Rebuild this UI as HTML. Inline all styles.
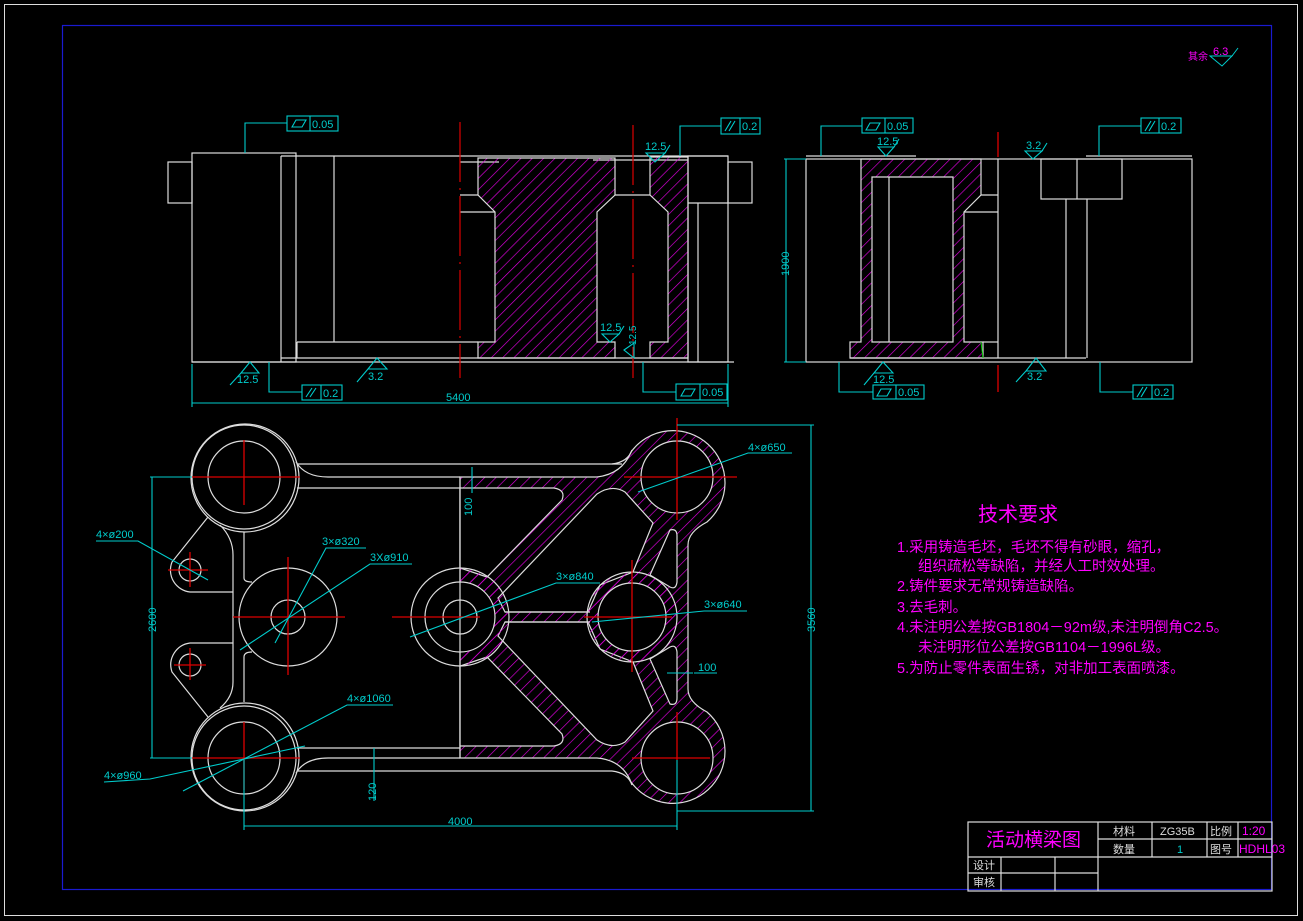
<!DOCTYPE html>
<html><head><meta charset="utf-8"><style>
html,body{margin:0;padding:0;background:#000;width:1303px;height:921px;overflow:hidden}
svg{display:block}
text{font-family:"Liberation Sans","Noto Sans CJK SC",sans-serif}
</style></head><body>
<svg width="1303" height="921" viewBox="0 0 1303 921" xmlns="http://www.w3.org/2000/svg">
<defs>
<pattern id="h" patternUnits="userSpaceOnUse" width="8" height="8" patternTransform="rotate(45)">
<line x1="0" y1="0" x2="0" y2="8" stroke="#e000e0" stroke-width="1.3"/>
</pattern>
</defs>
<rect width="1303" height="921" fill="#000"/>
<!-- frames -->
<rect x="4.5" y="4.5" width="1293" height="911" fill="none" stroke="#ddd" stroke-width="1"/>
<rect x="62.5" y="25.5" width="1209" height="864" fill="none" stroke="#1a1ad0" stroke-width="1.2"/>

<!-- ============ TOP LEFT VIEW ============ -->
<g fill="none" stroke="#ddd" stroke-width="1.2">
<rect x="168" y="162" width="24" height="41"/>
<rect x="192" y="153" width="104" height="209"/>
<line x1="281" y1="156" x2="728" y2="156"/>
<line x1="281" y1="156" x2="281" y2="362"/>
<line x1="334" y1="156" x2="334" y2="342"/>
<line x1="297" y1="342" x2="478" y2="342"/>
<line x1="297" y1="342" x2="297" y2="358"/>
<line x1="281" y1="358" x2="688" y2="358"/>
<line x1="192" y1="362" x2="734" y2="362"/>
<line x1="460" y1="162" x2="499" y2="162"/>
<line x1="460" y1="195" x2="478" y2="195"/>
<line x1="460" y1="212" x2="495" y2="212"/>
<line x1="593" y1="160" x2="688" y2="160"/>
<rect x="688" y="156" width="40" height="206"/>
<rect x="728" y="162" width="24" height="41"/>
<line x1="688" y1="203" x2="728" y2="203"/>
<line x1="698" y1="203" x2="698" y2="362"/>
<line x1="615" y1="195" x2="650" y2="195"/>
</g>
<path d="M478,158 L615,158 L615,195 L597,212 L597,342 L615,342 L615,358 L478,358 L478,342 L495,342 L495,212 L478,195 Z" fill="url(#h)" stroke="#ddd" stroke-width="1.2"/>
<path d="M650,157 L688,157 L688,358 L650,358 L650,342 L668,342 L668,212 L650,195 Z" fill="url(#h)" stroke="#ddd" stroke-width="1.2"/>
<line x1="460" y1="122" x2="460" y2="378" stroke="#d00" stroke-width="1.2" stroke-dasharray="60,6,2,6"/>
<line x1="633" y1="125" x2="633" y2="378" stroke="#d00" stroke-width="1.2" stroke-dasharray="60,6,2,6"/>

<g fill="none" stroke="#00cccc" stroke-width="1.1">
<rect x="287" y="116" width="51" height="15"/><line x1="310" y1="116" x2="310" y2="131"/>
<polyline points="287,123 245,123 245,153"/>
<path d="M292,127 L296,120 L306,120 L302,127 Z"/>
<rect x="721" y="118" width="39" height="16"/><line x1="740" y1="118" x2="740" y2="134"/>
<polyline points="721,126 680,126 680,156"/>
<path d="M725,131 L731,121 M729,131 L735,121"/>
<path d="M646,153 L665,153 L655,162 Z M665,153 L670,145"/>
<path d="M602,334 L619,334 L610,342 Z M619,334 L624,326"/>
<path d="M624,350 L634,343 L634,358 Z"/>
<path d="M241,373 L259,373 L250,362 Z M241,373 L230,385"/>
<path d="M368,369 L387,369 L377,358 Z M368,369 L357,382"/>
<rect x="302" y="385" width="40" height="15"/><line x1="321" y1="385" x2="321" y2="400"/>
<polyline points="302,392 269,392 269,362"/>
<path d="M306,397 L312,388 M310,397 L316,388"/>
<rect x="676" y="384" width="51" height="16"/><line x1="700" y1="384" x2="700" y2="400"/>
<polyline points="676,392 643,392 643,362"/>
<path d="M681,396 L685,389 L695,389 L691,396 Z"/>
<line x1="192" y1="364" x2="192" y2="407"/>
<line x1="728" y1="364" x2="728" y2="407"/>
<line x1="192" y1="403" x2="728" y2="403"/>
</g>
<g fill="#00cccc" font-size="11">
<text x="312" y="128">0.05</text>
<text x="742" y="130">0.2</text>
<text x="645" y="150">12.5</text>
<text x="600" y="331">12.5</text>
<text x="237" y="383">12.5</text>
<text x="368" y="380">3.2</text>
<text x="323" y="397">0.2</text>
<text x="702" y="396">0.05</text>
<text x="446" y="401">5400</text>
<text x="0" y="0" transform="translate(636,345) rotate(-90)" font-size="10">12.5</text>
</g>

<!-- ============ TOP RIGHT VIEW ============ -->
<g fill="none" stroke="#ddd" stroke-width="1.2">
<rect x="806" y="159" width="386" height="203"/>
<line x1="806" y1="156" x2="916" y2="156"/>
<line x1="1086" y1="156" x2="1192" y2="156"/>
<line x1="998" y1="159" x2="998" y2="358"/>
<line x1="981" y1="195" x2="998" y2="195"/>
<line x1="964" y1="212" x2="998" y2="212"/>
<line x1="983" y1="342" x2="998" y2="342"/>
<line x1="850" y1="358" x2="1086" y2="358"/>
<rect x="1041" y="159" width="81" height="40"/>
<line x1="1077" y1="159" x2="1077" y2="199"/>
<line x1="1066" y1="199" x2="1066" y2="358"/>
<line x1="1087" y1="199" x2="1087" y2="358"/>
</g>
<path d="M861,159 L981,159 L981,195 L964,212 L964,342 L983,342 L983,358 L850,358 L850,342 L861,342 Z M872,177 L953,177 L953,342 L872,342 Z" fill="url(#h)" fill-rule="evenodd" stroke="#ddd" stroke-width="1.2"/>
<line x1="889" y1="177" x2="889" y2="342" stroke="#ddd" stroke-width="1.2"/>
<line x1="998" y1="132" x2="998" y2="157" stroke="#d00" stroke-width="1.3"/>
<line x1="998" y1="365" x2="998" y2="392" stroke="#d00" stroke-width="1.3"/>
<line x1="981" y1="342" x2="983" y2="358" stroke="#0c0" stroke-width="1"/>
<g fill="none" stroke="#00cccc" stroke-width="1.1">
<line x1="786" y1="159" x2="786" y2="362"/>
<line x1="784" y1="159" x2="806" y2="159"/><line x1="784" y1="362" x2="806" y2="362"/>
<rect x="862" y="118" width="51" height="15"/><line x1="885" y1="118" x2="885" y2="133"/>
<polyline points="862,126 821,126 821,156"/>
<path d="M866,130 L870,123 L880,123 L876,130 Z"/>
<path d="M878,147 L894,147 L886,156 Z M894,147 L899,139"/>
<rect x="1141" y="118" width="40" height="15"/><line x1="1159" y1="118" x2="1159" y2="133"/>
<polyline points="1141,126 1099,126 1099,156"/>
<path d="M1145,131 L1151,121 M1149,131 L1155,121"/>
<path d="M1025,151 L1042,151 L1033,159 Z M1042,151 L1047,143"/>
<rect x="873" y="385" width="51" height="14"/><line x1="896" y1="385" x2="896" y2="399"/>
<polyline points="873,392 839,392 839,362"/>
<path d="M877,396 L881,389 L891,389 L887,396 Z"/>
<path d="M874,373 L893,373 L883,362 Z M874,373 L864,385"/>
<path d="M1026,371 L1046,371 L1036,358 Z M1026,371 L1016,382"/>
<rect x="1133" y="385" width="40" height="14"/><line x1="1152" y1="385" x2="1152" y2="399"/>
<polyline points="1133,392 1100,392 1100,362"/>
<path d="M1137,397 L1143,387 M1141,397 L1147,387"/>
</g>
<g fill="#00cccc" font-size="11">
<text x="0" y="0" transform="translate(789,276) rotate(-90)">1900</text>
<text x="887" y="130">0.05</text>
<text x="877" y="145">12.5</text>
<text x="1161" y="130">0.2</text>
<text x="1026" y="149">3.2</text>
<text x="898" y="396">0.05</text>
<text x="873" y="383">12.5</text>
<text x="1027" y="380">3.2</text>
<text x="1154" y="396">0.2</text>
</g>

<!-- ============ BOTTOM VIEW ============ -->
<!-- hatched solid -->
<path d="M460,477 L597,477 Q622,474 631,452 A52,52 0 1 1 707,522 Q688,532 688,545 L688,689 Q688,702 707,712 A52,52 0 1 1 631,782 Q622,760 597,758 L460,758 Z" fill="url(#h)" stroke="#ddd" stroke-width="1.2"/>
<g fill="#000" stroke="#ddd" stroke-width="1.2">
<path d="M460,488 L554,488 Q566,490 562,500 L487,577 L460,568 Z"/>
<path d="M505,612 L498,598 L597,494 Q612,484 625,492 L653,523 L633,572 L600,585 L588,612 Z"/>
<path d="M505,622 L498,636 L597,740 Q612,750 625,742 L653,711 L633,662 L600,649 L588,622 Z"/>
<path d="M460,746 L554,746 Q566,744 562,734 L487,657 L460,666 Z"/>
<path d="M670,530 Q677,528 677,536 L677,582 Q676,590 670,587 L650,575 Z"/>
<path d="M670,704 Q677,706 677,698 L677,652 Q676,644 670,647 L650,659 Z"/>
</g>
<path d="M460,568 A49,49 0 0 1 460,666 Z" fill="url(#h)"/>
<circle cx="632" cy="617" r="45" fill="url(#h)" stroke="#ddd" stroke-width="1.2"/>
<rect x="600" y="612" width="40" height="10" fill="url(#h)"/>
<line x1="505" y1="612" x2="590" y2="612" stroke="#ddd" stroke-width="1.2"/>
<line x1="505" y1="622" x2="590" y2="622" stroke="#ddd" stroke-width="1.2"/>
<g fill="#000" stroke="#ddd" stroke-width="1.2">
<circle cx="632" cy="617" r="34"/>
<circle cx="677" cy="477" r="36"/>
<circle cx="677" cy="758" r="36"/>
<circle cx="460" cy="617" r="35"/>
</g>
<g fill="none" stroke="#ddd" stroke-width="1.2">
<circle cx="460" cy="617" r="49"/>
<circle cx="460" cy="617" r="17"/>
<line x1="460" y1="477" x2="460" y2="758"/>
<!-- left bosses -->
<circle cx="244" cy="477" r="52"/><circle cx="244" cy="477" r="36"/>
<circle cx="245" cy="478" r="54"/>
<circle cx="244" cy="758" r="52"/><circle cx="244" cy="758" r="36"/>
<circle cx="245" cy="757" r="54"/>
<circle cx="288" cy="617" r="49"/><circle cx="288" cy="617" r="17"/>
<!-- arms -->
<path d="M296,462 Q305,477 328,477 L460,477"/>
<line x1="297" y1="464" x2="622" y2="464"/>
<path d="M612,464 Q628,462 632,450"/>
<line x1="297" y1="488" x2="460" y2="488"/>
<line x1="297" y1="748" x2="460" y2="748"/>
<path d="M296,773 Q305,758 328,758 L460,758"/>
<line x1="297" y1="771" x2="612" y2="771"/>
<path d="M612,771 Q628,773 632,785"/>
<!-- left structure -->
<path d="M244,532 L244,578 Q244,582 252,582"/>
<path d="M244,702 L244,657 Q244,652 252,652"/>
<path d="M220,525 Q233,538 233,555 L233,682 Q233,697 220,708"/>
<path d="M208,517 L172,562 A22,22 0 0 0 190,592 L233,592"/>
<path d="M208,717 L172,672 A22,22 0 0 1 190,643 L233,643"/>
<circle cx="190" cy="570" r="11"/><circle cx="190" cy="665" r="11"/>
</g>
<!-- red center lines -->
<g stroke="#d00" stroke-width="1.3">
<line x1="192" y1="477" x2="300" y2="477"/><line x1="244" y1="440" x2="244" y2="505"/>
<line x1="192" y1="758" x2="300" y2="758"/><line x1="244" y1="722" x2="244" y2="790"/>
<line x1="233" y1="617" x2="345" y2="617"/><line x1="288" y1="557" x2="288" y2="675"/>
<line x1="392" y1="617" x2="480" y2="617"/>
<line x1="168" y1="570" x2="208" y2="570"/><line x1="190" y1="552" x2="190" y2="587"/>
<line x1="174" y1="665" x2="206" y2="665"/><line x1="190" y1="648" x2="190" y2="680"/>
<line x1="624" y1="477" x2="737" y2="477"/><line x1="677" y1="418" x2="677" y2="520"/>
<line x1="632" y1="758" x2="710" y2="758"/><line x1="677" y1="712" x2="677" y2="760"/>
<line x1="584" y1="617" x2="672" y2="617"/><line x1="632" y1="560" x2="632" y2="672"/>
</g>
<!-- dims -->
<g fill="none" stroke="#00cccc" stroke-width="1.1">
<line x1="152" y1="477" x2="152" y2="758"/>
<line x1="150" y1="477" x2="192" y2="477"/><line x1="150" y1="758" x2="192" y2="758"/>
<line x1="244" y1="760" x2="244" y2="830"/><line x1="677" y1="760" x2="677" y2="830"/>
<line x1="244" y1="826" x2="677" y2="826"/>
<line x1="811" y1="425" x2="811" y2="811"/>
<line x1="677" y1="425" x2="814" y2="425"/><line x1="677" y1="811" x2="814" y2="811"/>
<line x1="472" y1="467" x2="472" y2="493"/>
<line x1="374" y1="748" x2="374" y2="801"/>
<line x1="667" y1="673" x2="693" y2="673"/>
<polyline points="96,541 138,541 208,580"/>
<polyline points="366,548 326,548 275,643"/>
<polyline points="412,564 370,564 240,650"/>
<polyline points="393,705 347,705 183,791"/>
<polyline points="104,782 150,779 305,746"/>
<polyline points="600,583 556,583 410,637"/>
<polyline points="747,611 704,611 592,622"/>
<polyline points="792,453 748,453 638,492"/>
<line x1="694" y1="673" x2="717" y2="673"/>
</g>
<g fill="#00cccc" font-size="11">
<text x="0" y="0" transform="translate(156,632) rotate(-90)">2600</text>
<text x="448" y="825">4000</text>
<text x="0" y="0" transform="translate(815,632) rotate(-90)">3560</text>
<text x="0" y="0" transform="translate(472,516) rotate(-90)">100</text>
<text x="0" y="0" transform="translate(376,801) rotate(-90)">120</text>
<text x="698" y="671">100</text>
<text x="96" y="538">4×ø200</text>
<text x="322" y="545">3×ø320</text>
<text x="370" y="561">3Xø910</text>
<text x="347" y="702">4×ø1060</text>
<text x="104" y="779">4×ø960</text>
<text x="556" y="580">3×ø840</text>
<text x="704" y="608">3×ø640</text>
<text x="748" y="451">4×ø650</text>
</g>

<!-- top-right roughness note -->
<text x="1188" y="60" fill="#ff00ff" font-size="10">其余</text>
<path d="M1210,56 L1232,56 L1222,66 Z M1232,56 L1238,48" fill="none" stroke="#00cccc" stroke-width="1"/>
<text x="1213" y="55" fill="#ff00ff" font-size="11">6.3</text>

<!-- technical requirements -->
<g fill="#ff00ff">
<text x="978" y="521" font-size="20">技术要求</text>
<g font-size="14.5">
<text x="897" y="552">1.采用铸造毛坯，毛坯不得有砂眼，缩孔，</text>
<text x="918" y="571">组织疏松等缺陷，并经人工时效处理。</text>
<text x="897" y="591">2.铸件要求无常规铸造缺陷。</text>
<text x="897" y="612">3.去毛刺。</text>
<text x="897" y="632">4.未注明公差按GB1804－92m级,未注明倒角C2.5。</text>
<text x="918" y="652">未注明形位公差按GB1104－1996L级。</text>
<text x="897" y="673">5.为防止零件表面生锈，对非加工表面喷漆。</text>
</g>
</g>

<!-- title block -->
<g fill="none" stroke="#ddd" stroke-width="1.2">
<rect x="968" y="822" width="304" height="69"/>
<line x1="1098" y1="822" x2="1098" y2="891"/>
<line x1="968" y1="857" x2="1272" y2="857"/>
<line x1="1098" y1="839" x2="1272" y2="839"/>
<line x1="1152" y1="822" x2="1152" y2="857"/>
<line x1="1207" y1="822" x2="1207" y2="857"/>
<line x1="1238" y1="822" x2="1238" y2="857"/>
<line x1="968" y1="873" x2="1098" y2="873"/>
<line x1="1001" y1="857" x2="1001" y2="891"/>
<line x1="1055" y1="857" x2="1055" y2="891"/>
</g>
<text x="986" y="846" fill="#ff00ff" font-size="19">活动横梁图</text>
<g fill="#ddd" font-size="11">
<text x="1113" y="835">材料</text>
<text x="1160" y="835">ZG35B</text>
<text x="1210" y="835">比例</text>
<text x="1113" y="853">数量</text>
<text x="1210" y="853">图号</text>
<text x="973" y="869">设计</text>
<text x="973" y="886">审核</text>
</g>
<text x="1177" y="853" fill="#00cccc" font-size="11">1</text>
<text x="1242" y="835" fill="#ff00ff" font-size="12">1:20</text>
<text x="1239" y="853" fill="#ff00ff" font-size="12">HDHL03</text>
</svg>
</body></html>
